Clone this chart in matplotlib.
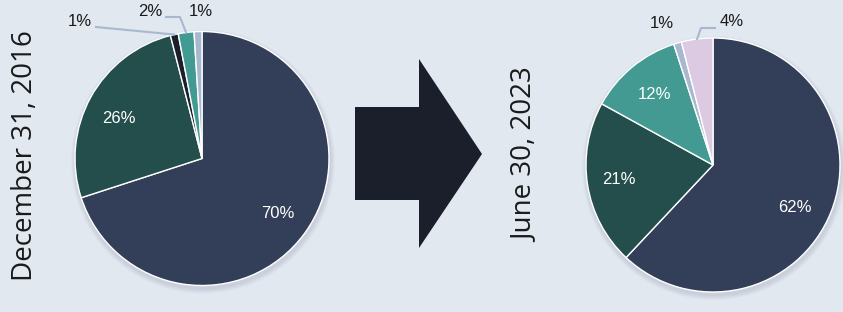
import matplotlib
matplotlib.use("Agg")
import matplotlib.pyplot as plt
from matplotlib.patches import Polygon, Circle
import numpy as np

# ---- data ----
left_title = "December 31, 2016"
right_title = "June 30, 2023"
left_values = [70, 26, 1, 2, 1]
left_labels = ["70%", "26%", "1%", "2%", "1%"]
left_colors = ["#333f58", "#234e4b", "#1b1f2b", "#439a92", "#a8b9cf"]
right_values = [62, 21, 12, 1, 4]
right_labels = ["62%", "21%", "12%", "1%", "4%"]
right_colors = ["#333f58", "#234e4b", "#439a92", "#a8b9cf", "#dccae3"]

W, H = 843, 312
BG = "#e2e8f0"
LINE = "#a8b9cf"
TXT = "#1a1a1a"
LBL_FONT = ["Liberation Sans Narrow", "Liberation Sans", "DejaVu Sans"]

fig = plt.figure(figsize=(W / 100, H / 100), dpi=100, facecolor=BG)
ax = fig.add_axes([0, 0, 1, 1])
ax.set_facecolor(BG)


def fy(py):
    return H - py


def draw_pie(values, colors, cx, cy, r):
    # soft shadow
    for k in range(5):
        ax.add_patch(Circle((cx + 1, fy(cy + 3)), r + 1 + k, color="#7f8aa0",
                            alpha=0.05, lw=0, zorder=0))
    wedges, _ = ax.pie(values, colors=colors, startangle=90, counterclock=False,
                       center=(cx, fy(cy)), radius=r,
                       wedgeprops=dict(edgecolor="white", linewidth=1.0))
    for w in wedges:
        w.set_zorder(2)
    return wedges


def mid_point(wedge, cx, cy, frac, dang=0.0):
    ang = np.deg2rad((wedge.theta1 + wedge.theta2) / 2 + dang)
    return cx + frac * wedge.r * np.cos(ang), fy(cy) + frac * wedge.r * np.sin(ang)


# left pie
lcx, lcy, lr = 202, 158.5, 127
lw = draw_pie(left_values, left_colors, lcx, lcy, lr)
for i, d, da in [(0, 0.74, 0), (1, 0.73, 3)]:
    x, y = mid_point(lw[i], lcx, lcy, d, da)
    ax.text(x, y, left_labels[i], color="white", ha="center", va="center",
            fontsize=12, family=LBL_FONT, zorder=5)

# outside labels for small slices (left)
ax.text(80, fy(21), left_labels[2], color=TXT, ha="center", va="center",
        fontsize=12, family=LBL_FONT, zorder=5)
x, y = mid_point(lw[2], lcx, lcy, 1.0)
ax.plot([96, x], [fy(27), y], color=LINE, lw=1.5, zorder=4)
ax.text(150, fy(12), left_labels[3], color=TXT, ha="center", va="center",
        fontsize=12, family=LBL_FONT, zorder=5)
x, y = mid_point(lw[3], lcx, lcy, 1.0)
ax.plot([166, 180, x], [fy(17), fy(17), y], color=LINE, lw=1.5, zorder=4)
ax.text(201, fy(12), left_labels[4], color=TXT, ha="center", va="center",
        fontsize=12, family=LBL_FONT, zorder=5)

# right pie
rcx, rcy, rr = 713, 165, 127
rw = draw_pie(right_values, right_colors, rcx, rcy, rr)
for i, d, da in [(0, 0.73, -6), (1, 0.75, 0), (2, 0.72, 0)]:
    x, y = mid_point(rw[i], rcx, rcy, d, da)
    ax.text(x, y, right_labels[i], color="white", ha="center", va="center",
            fontsize=12, family=LBL_FONT, zorder=5)
ax.text(662, fy(24), right_labels[3], color=TXT, ha="center", va="center",
        fontsize=12, family=LBL_FONT, zorder=5)
ax.text(732, fy(21), right_labels[4], color=TXT, ha="center", va="center",
        fontsize=12, family=LBL_FONT, zorder=5)
x, y = mid_point(rw[4], rcx, rcy, 1.0)
ax.plot([715, 701, x], [fy(28), fy(28), y], color=LINE, lw=1.5, zorder=4)

# arrow
arrow = [(355, 107), (419, 107), (419, 59), (482, 154), (419, 248), (419, 200), (355, 200)]
ax.add_patch(Polygon([(px, fy(py)) for px, py in arrow], closed=True,
                     facecolor="#1b1f2b", edgecolor="none", zorder=3))

# titles
ax.text(25, fy(156), left_title, rotation=90, ha="center", va="center",
        fontsize=20, color=TXT, family="Open Sans")
ax.text(525.5, fy(155), right_title, rotation=90, ha="center", va="center",
        fontsize=20, color=TXT, family="Open Sans")

ax.set_xlim(0, W)
ax.set_ylim(0, H)
ax.set_aspect("auto")
ax.axis("off")
fig.savefig("out.png", dpi=100, facecolor=BG)
